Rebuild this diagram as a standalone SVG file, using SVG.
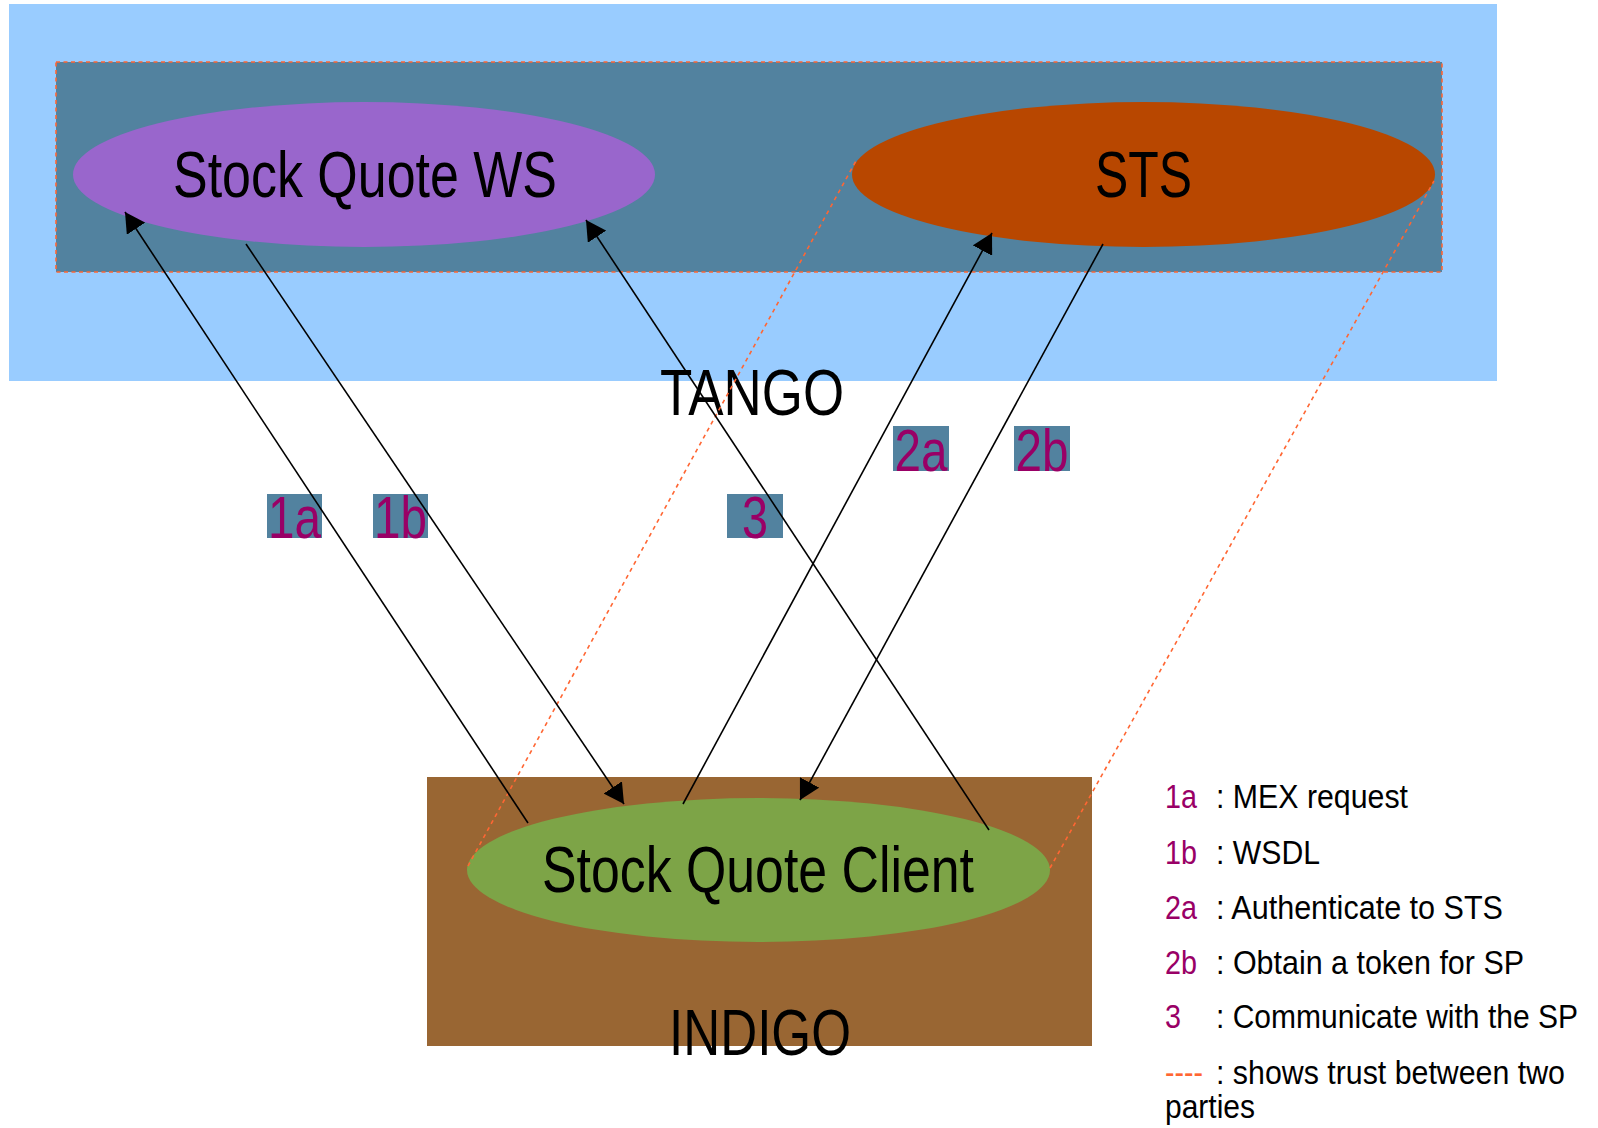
<svg xmlns="http://www.w3.org/2000/svg" width="1598" height="1128" viewBox="0 0 1598 1128">
<style>
.big{font-family:"Liberation Sans Narrow","Liberation Sans",Arial,sans-serif;font-size:64px;fill:#000}
.lbl{font-family:"Liberation Sans Narrow","Liberation Sans",Arial,sans-serif;font-size:60px;fill:#990066;text-anchor:middle}
.lbox{fill:#52829F}
.lg{font-family:"Liberation Sans Narrow","Liberation Sans",Arial,sans-serif;font-size:33px;fill:#000}
.num{fill:#990066}
.conn{stroke:#000;stroke-width:1.6;fill:none}
.trust{stroke:#FF6633;stroke-width:1.6;stroke-dasharray:4 4;fill:none}
</style>
<defs>
<marker id="ah" markerUnits="userSpaceOnUse" viewBox="0 0 20 22" refX="20" refY="11" markerWidth="20" markerHeight="22" orient="auto">
<path d="M0,0 L20,11 L0,22 z" fill="#000"/>
</marker>
</defs>
<rect width="1598" height="1128" fill="#fff"/>
<g id="tango">
<rect x="9" y="4" width="1488" height="377" fill="#99CCFF"/>
<rect x="56" y="62" width="1386" height="210" fill="#52829F" stroke="#FF6633" stroke-width="1.6" stroke-dasharray="4 3.5"/>
<text class="big" x="660" y="415" textLength="184" lengthAdjust="spacingAndGlyphs">TANGO</text>
</g>
<g id="ws">
<ellipse cx="364" cy="174.5" rx="291" ry="72.5" fill="#9966CC"/>
<text class="big" x="173" y="197" textLength="384" lengthAdjust="spacingAndGlyphs">Stock Quote WS</text>
</g>
<g id="sts">
<ellipse cx="1143.5" cy="174.5" rx="291.5" ry="72.5" fill="#B84700"/>
<text class="big" x="1095" y="197" textLength="97" lengthAdjust="spacingAndGlyphs">STS</text>
</g>
<g id="indigo">
<rect x="427" y="777" width="665" height="269" fill="#996633"/>
<text class="big" x="669" y="1055" textLength="182" lengthAdjust="spacingAndGlyphs">INDIGO</text>
</g>
<g id="client">
<ellipse cx="758.5" cy="870" rx="291.5" ry="72" fill="#7DA447"/>
<text class="big" x="542" y="892" textLength="432" lengthAdjust="spacingAndGlyphs">Stock Quote Client</text>
</g>
<g id="labels">
<rect class="lbox" x="267" y="494" width="55" height="44"/>
<text class="lbl" x="294.5" y="538" textLength="53" lengthAdjust="spacingAndGlyphs">1a</text>
<rect class="lbox" x="373" y="494" width="55" height="44"/>
<text class="lbl" x="400.5" y="538" textLength="53" lengthAdjust="spacingAndGlyphs">1b</text>
<rect class="lbox" x="727" y="494" width="56" height="44"/>
<text class="lbl" x="755" y="538" textLength="26" lengthAdjust="spacingAndGlyphs">3</text>
<rect class="lbox" x="893" y="426" width="56" height="45"/>
<text class="lbl" x="921" y="471" textLength="53" lengthAdjust="spacingAndGlyphs">2a</text>
<rect class="lbox" x="1014" y="426" width="56" height="45"/>
<text class="lbl" x="1042" y="471" textLength="53" lengthAdjust="spacingAndGlyphs">2b</text>
</g>
<g id="connectors">
<line class="trust" x1="468" y1="866" x2="857" y2="159"/>
<line class="trust" x1="1050" y1="868" x2="1434" y2="181"/>
<line class="conn" x1="528" y1="823" x2="125" y2="212" marker-end="url(#ah)"/>
<line class="conn" x1="246" y1="244" x2="624" y2="804" marker-end="url(#ah)"/>
<line class="conn" x1="989" y1="830" x2="586" y2="220" marker-end="url(#ah)"/>
<line class="conn" x1="683" y1="804" x2="992" y2="233" marker-end="url(#ah)"/>
<line class="conn" x1="1103" y1="244" x2="800" y2="800" marker-end="url(#ah)"/>
</g>
<g id="legend">
<text class="lg num" x="1165" y="808" textLength="32" lengthAdjust="spacingAndGlyphs">1a</text>
<text class="lg" x="1216" y="808" textLength="192" lengthAdjust="spacingAndGlyphs">: MEX request</text>
<text class="lg num" x="1165" y="864" textLength="32" lengthAdjust="spacingAndGlyphs">1b</text>
<text class="lg" x="1216" y="864" textLength="104" lengthAdjust="spacingAndGlyphs">: WSDL</text>
<text class="lg num" x="1165" y="919" textLength="32" lengthAdjust="spacingAndGlyphs">2a</text>
<text class="lg" x="1216" y="919" textLength="287" lengthAdjust="spacingAndGlyphs">: Authenticate to STS</text>
<text class="lg num" x="1165" y="974" textLength="32" lengthAdjust="spacingAndGlyphs">2b</text>
<text class="lg" x="1216" y="974" textLength="308" lengthAdjust="spacingAndGlyphs">: Obtain a token for SP</text>
<text class="lg num" x="1165" y="1028" textLength="16" lengthAdjust="spacingAndGlyphs">3</text>
<text class="lg" x="1216" y="1028" textLength="362" lengthAdjust="spacingAndGlyphs">: Communicate with the SP</text>
<text class="lg" x="1165" y="1084" textLength="38" lengthAdjust="spacingAndGlyphs" style="fill:#FF6633">----</text>
<text class="lg" x="1216" y="1084" textLength="349" lengthAdjust="spacingAndGlyphs">: shows trust between two</text>
<text class="lg" x="1165" y="1118" textLength="90" lengthAdjust="spacingAndGlyphs">parties</text>
</g>
</svg>
